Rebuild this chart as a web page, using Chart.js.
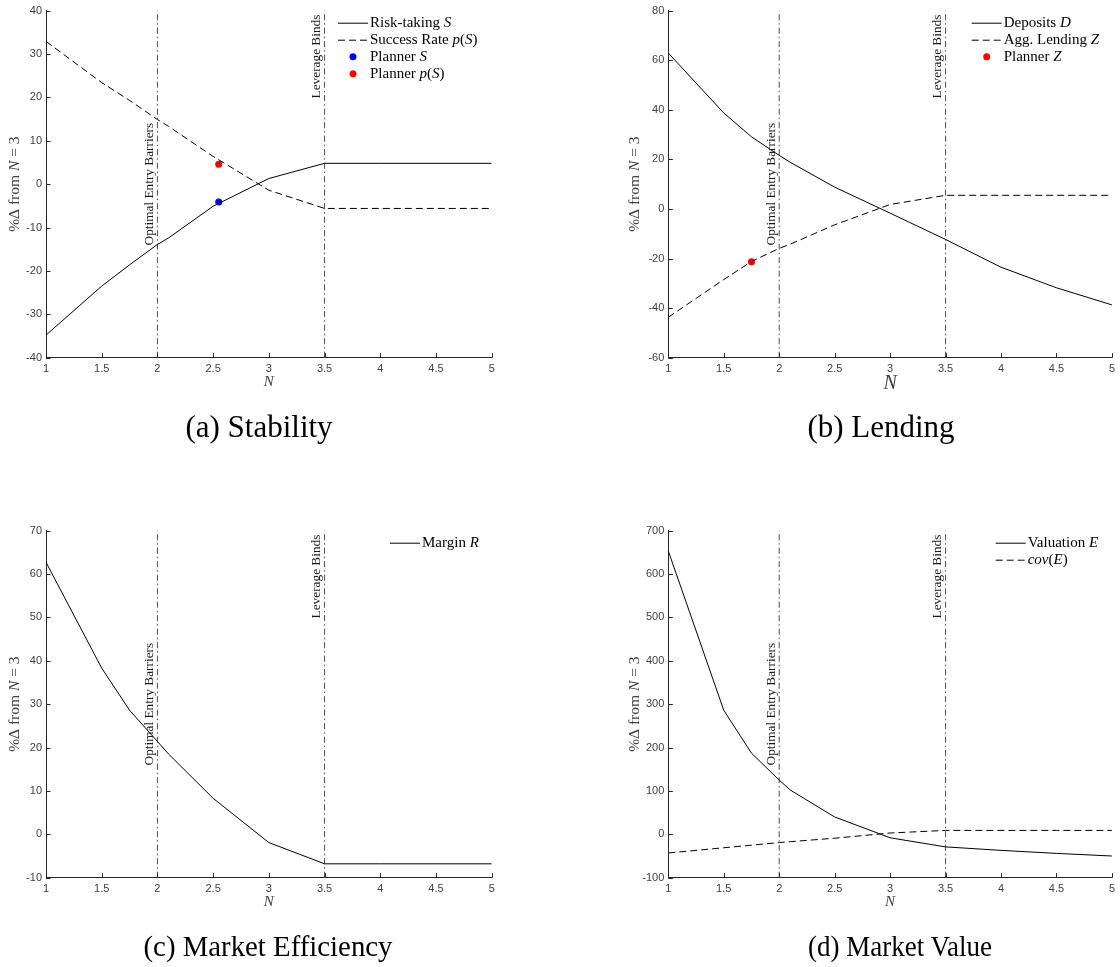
<!DOCTYPE html>
<html>
<head>
<meta charset="utf-8">
<script src="https://cdn.jsdelivr.net/npm/chart.js@4.4.1/dist/chart.umd.min.js"></script>
<style>
  body { margin: 0; background: #fff; width: 1120px; height: 967px; position: relative; overflow: hidden; }
  .panel { position: absolute; width: 500px; height: 420px; }
  .caption { position: absolute; font-family: "Liberation Serif", "Times New Roman", serif; font-size: 31px; color: #000; transform: translate(-50%, -50%); white-space: nowrap; }
  .caption.low { font-size: 30px; }
</style>
</head>
<body>
<div class="panel" style="left:0;top:0"><canvas id="chartA" width="500" height="420"></canvas></div>
<div class="panel" style="left:620px;top:0"><canvas id="chartB" width="500" height="420"></canvas></div>
<div class="panel" style="left:0;top:520px"><canvas id="chartC" width="500" height="420"></canvas></div>
<div class="panel" style="left:620px;top:520px"><canvas id="chartD" width="500" height="420"></canvas></div>
<div class="caption" style="left:259px;top:427px">(a) Stability</div>
<div class="caption" style="left:881px;top:427px">(b) Lending</div>
<div class="caption low" style="left:268px;top:946px;transform:translate(-50%,-50%) scaleX(0.96)">(c) Market Efficiency</div>
<div class="caption low" style="left:900px;top:946px;transform:translate(-50%,-50%) scaleX(0.9)">(d) Market Value</div>
<script>
// number of banks N
const N = [1, 1.5, 1.75, 2, 2.1, 2.5, 3, 3.5, 4, 4.5, 5];

// % change from N = 3
const riskTaking = [-34.8, -23.5, -18.6, -13.9, -12.4, -5.1, 1.3, 4.8, 4.8, 4.8, 4.8];
const successRate = [32.9, 23.4, 19.3, 14.9, 13.3, 6.4, -1.4, -5.6, -5.6, -5.6, -5.6];
const deposits = [62.9, 38.7, 29.1, 21.6, 18.8, 8.8, -1.7, -12.3, -23.5, -31.8, -38.7];
const aggLending = [-43.7, -28.5, -21.2, -15.9, -14.2, -6.4, 1.8, 5.5, 5.5, 5.5, 5.5];
const margin = [62.7, 38.3, 28.6, 21.4, 18.5, 8.3, -1.9, -6.8, -6.8, -6.8, -6.8];
const valuation = [653, 286, 187, 125, 102, 40, -8, -29, -37, -44, -50];
const covE = [-43, -31, -25, -19, -17, -9, 3, 9, 9, 9, 9];

// social planner choices
const plannerS = { x: 2.55, y: -4.1 };
const plannerPS = { x: 2.55, y: 4.6 };
const plannerZ = { x: 1.75, y: -21.3 };

// regime boundaries
const xLines = [2, 3.5];
const xLineLabels = ['Optimal Entry Barriers', 'Leverage Binds'];
const xLineAlign = ['middle', 'top'];

const SERIF = '"Liberation Serif", "Times New Roman", serif';
const SANS = '"Liberation Sans", Arial, sans-serif';
const AXIS = '#262626';

// text with $...$ math parts: letters inside math are italic
function parseRich(str) {
  const segs = [];
  str.split('$').forEach((part, i) => {
    if (i % 2 === 0) { if (part) segs.push([part, false]); return; }
    for (const ch of part) segs.push([ch, /[A-Za-z]/.test(ch)]);
  });
  return segs;
}

function drawRich(ctx, str, x, y, size, align) {
  const segs = parseRich(str);
  const fontOf = it => (it ? 'italic ' : '') + size + 'px ' + SERIF;
  let w = 0;
  segs.forEach(s => { ctx.font = fontOf(s[1]); w += ctx.measureText(s[0]).width; });
  let cx = align === 'center' ? x - w / 2 : x;
  ctx.textAlign = 'left';
  segs.forEach(s => {
    ctx.font = fontOf(s[1]);
    ctx.fillText(s[0], cx, y);
    cx += ctx.measureText(s[0]).width;
  });
}

const decor = {
  id: 'decor',
  afterDatasetsDraw(chart, args, o) {
    const ctx = chart.ctx;
    const { left, right, top, bottom } = chart.chartArea;
    const xs = chart.scales.x, ys = chart.scales.y;
    ctx.save();

    // tick marks pointing into the axes
    ctx.strokeStyle = AXIS;
    ctx.lineWidth = 1;
    ctx.beginPath();
    xs.ticks.forEach(t => {
      const px = Math.round(xs.getPixelForValue(t.value)) + 0.5;
      ctx.moveTo(px, bottom); ctx.lineTo(px, bottom - 4.5);
    });
    ys.ticks.forEach(t => {
      const py = Math.round(ys.getPixelForValue(t.value)) + 0.5;
      ctx.moveTo(left, py); ctx.lineTo(left + 4.5, py);
    });
    ctx.stroke();

    // labels beside the vertical lines
    ctx.fillStyle = '#1a1a1a';
    ctx.textBaseline = 'alphabetic';
    xLines.forEach((v, i) => {
      const px = xs.getPixelForValue(v);
      ctx.save();
      ctx.translate(px - 4.5, xLineAlign[i] === 'top' ? top + 4 : (top + bottom) / 2);
      ctx.rotate(-Math.PI / 2);
      ctx.font = '13.3px ' + SERIF;
      ctx.textAlign = xLineAlign[i] === 'top' ? 'right' : 'center';
      ctx.fillText(xLineLabels[i], 0, 0);
      ctx.restore();
    });

    // axis titles
    ctx.fillStyle = '#404040';
    ctx.textBaseline = 'middle';
    drawRich(ctx, '$N$', (left + right) / 2, o.xTitleY, o.xTitleSize, 'center');
    ctx.save();
    ctx.translate(o.yTitleX, (top + bottom) / 2);
    ctx.rotate(-Math.PI / 2);
    drawRich(ctx, '%\u0394 from $N = 3$', 0, 0, 15.5, 'center');
    ctx.restore();

    // legend
    o.legend.forEach((idx, row) => {
      const ds = chart.data.datasets[idx];
      const y = o.legendY + row * 17;
      const x0 = o.legendX;
      if (ds.showLine === false) {
        ctx.beginPath();
        ctx.fillStyle = ds.pointBackgroundColor;
        ctx.arc(x0 + 15, y, 3.5, 0, Math.PI * 2);
        ctx.fill();
      } else {
        ctx.beginPath();
        ctx.strokeStyle = ds.borderColor;
        ctx.lineWidth = ds.borderWidth;
        ctx.setLineDash(ds.borderDash || []);
        ctx.moveTo(x0, y + 0.5); ctx.lineTo(x0 + 30, y + 0.5);
        ctx.stroke();
        ctx.setLineDash([]);
      }
      ctx.fillStyle = '#000';
      drawRich(ctx, ds.label, x0 + 32, y, 15, 'left');
    });
    ctx.restore();
  }
};

function buildChart(id, cfg) {
  const datasets = [];
  cfg.series.forEach(s => datasets.push({
    label: s.label,
    data: N.map((n, i) => ({ x: n, y: s.values[i] })),
    borderColor: '#000', borderWidth: 1, borderDash: s.dash || [],
    pointRadius: 0, tension: 0, fill: false
  }));
  (cfg.planners || []).forEach(p => datasets.push({
    label: p.label, data: [p.point], showLine: false,
    pointRadius: 3.5, pointBackgroundColor: p.color, pointBorderWidth: 0, borderColor: p.color
  }));
  xLines.forEach(v => datasets.push({
    label: '', data: [{ x: v, y: cfg.yMin }, { x: v, y: cfg.yMax }],
    borderColor: '#4d4d4d', borderWidth: 1, borderDash: [6, 3, 1.5, 3], pointRadius: 0
  }));

  const legendIdx = datasets.map((d, i) => i).filter(i => datasets[i].label);

  return new Chart(document.getElementById(id), {
    type: 'line',
    data: { datasets },
    options: {
      responsive: false,
      animation: false,
      events: [],
      layout: { padding: { top: 5.3, right: cfg.padRight, left: 0, bottom: 0 } },
      scales: {
        x: {
          type: 'linear', min: 1, max: 5,
          ticks: {
            stepSize: 0.5, color: '#404040', padding: 5, font: { family: SANS, size: 11 },
            callback: v => String(v)
          },
          grid: { display: true, drawOnChartArea: false, drawTicks: false },
          border: { display: true, color: AXIS, width: 1 },
          afterFit: s => { s.height = 62.3; }
        },
        y: {
          min: cfg.yMin, max: cfg.yMax,
          ticks: {
            stepSize: cfg.yStep, color: '#404040', padding: 4, font: { family: SANS, size: 11 },
            callback: v => String(v)
          },
          grid: { display: true, drawOnChartArea: false, drawTicks: false },
          border: { display: true, color: AXIS, width: 1 },
          afterFit: s => { s.width = cfg.axisWidth; }
        }
      },
      plugins: {
        legend: { display: false },
        tooltip: { enabled: false },
        decor: {
          legend: legendIdx, legendX: cfg.legendX, legendY: 22.7,
          xTitleY: cfg.xTitleY, xTitleSize: cfg.xTitleSize, yTitleX: 15
        }
      }
    },
    plugins: [decor]
  });
}

buildChart('chartA', {
  yMin: -40, yMax: 40, yStep: 10, axisWidth: 46, padRight: 8.3, legendX: 338,
  xTitleY: 382, xTitleSize: 15,
  series: [
    { label: 'Risk-taking $S$', values: riskTaking },
    { label: 'Success Rate $p(S)$', values: successRate, dash: [7, 4] }
  ],
  planners: [
    { label: 'Planner $S$', point: plannerS, color: '#0000ff' },
    { label: 'Planner $p(S)$', point: plannerPS, color: '#ff0000' }
  ]
});

buildChart('chartB', {
  yMin: -60, yMax: 80, yStep: 20, axisWidth: 48.3, padRight: 6.7, legendX: 351.7,
  xTitleY: 384, xTitleSize: 20,
  series: [
    { label: 'Deposits $D$', values: deposits },
    { label: 'Agg. Lending $Z$', values: aggLending, dash: [7, 4] }
  ],
  planners: [
    { label: 'Planner $Z$', point: plannerZ, color: '#ff0000' }
  ]
});

buildChart('chartC', {
  yMin: -10, yMax: 70, yStep: 10, axisWidth: 46, padRight: 8.3, legendX: 390,
  xTitleY: 382, xTitleSize: 15,
  series: [
    { label: 'Margin $R$', values: margin }
  ]
});

buildChart('chartD', {
  yMin: -100, yMax: 700, yStep: 100, axisWidth: 48.3, padRight: 6.7, legendX: 375.7,
  xTitleY: 382, xTitleSize: 15,
  series: [
    { label: 'Valuation $E$', values: valuation },
    { label: '$cov(E)$', values: covE, dash: [7, 4] }
  ]
});
</script>
</body>
</html>
